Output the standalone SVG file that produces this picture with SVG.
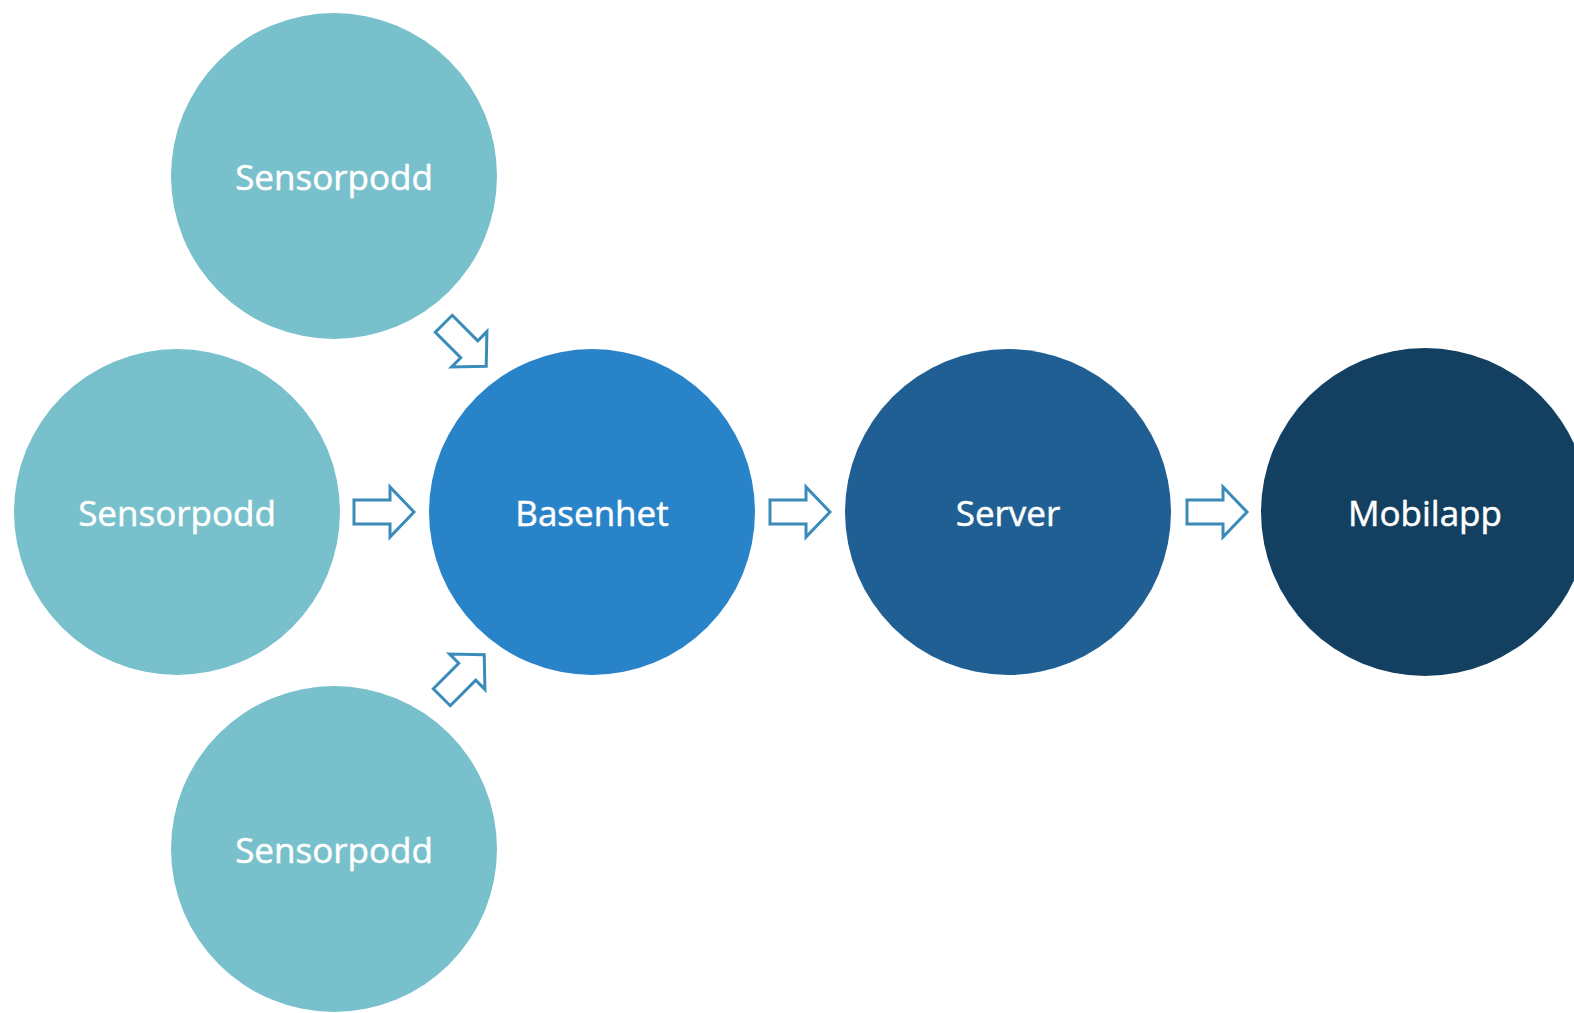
<svg xmlns="http://www.w3.org/2000/svg" width="1574" height="1013" viewBox="0 0 1574 1013">
<defs>
<style>
.lbl{font-family:"Open Sans","DejaVu Sans",sans-serif;font-size:35px;fill:#ffffff;text-anchor:middle;dominant-baseline:central;stroke:#ffffff;stroke-width:0.5}
.arr{fill:#ffffff;stroke:#3a8cb8;stroke-width:3;stroke-linejoin:miter}
</style>
<path id="blk" d="M0,-12 H36 V-25 L60,0 L36,25 V12 H0 Z"/>
</defs>
<rect width="1574" height="1013" fill="#ffffff"/>
<g id="sensor1"><circle cx="334" cy="176" r="163" fill="#78c1cc"/><text class="lbl" x="334" y="176">Sensorpodd</text></g>
<g id="sensor2"><circle cx="177" cy="512" r="163" fill="#78c1cc"/><text class="lbl" x="177" y="512">Sensorpodd</text></g>
<g id="sensor3"><circle cx="334" cy="849" r="163" fill="#78c1cc"/><text class="lbl" x="334" y="849">Sensorpodd</text></g>
<g id="basenhet"><circle cx="592" cy="512" r="163" fill="#2983c8"/><text class="lbl" x="592" y="512">Basenhet</text></g>
<g id="server"><circle cx="1008" cy="512" r="163" fill="#1f5f93"/><text class="lbl" x="1008" y="512">Server</text></g>
<g id="mobilapp"><circle cx="1425" cy="512" r="164" fill="#133f61"/><text class="lbl" x="1425" y="512">Mobilapp</text></g>
<g id="connectors">
<use href="#blk" class="arr" transform="translate(465,345) rotate(45) translate(-30,0)"/>
<use href="#blk" class="arr" transform="translate(354,512)"/>
<use href="#blk" class="arr" transform="translate(463,676) rotate(-45) translate(-30,0)"/>
<use href="#blk" class="arr" transform="translate(770,512)"/>
<use href="#blk" class="arr" transform="translate(1187,512)"/>
</g>
</svg>
